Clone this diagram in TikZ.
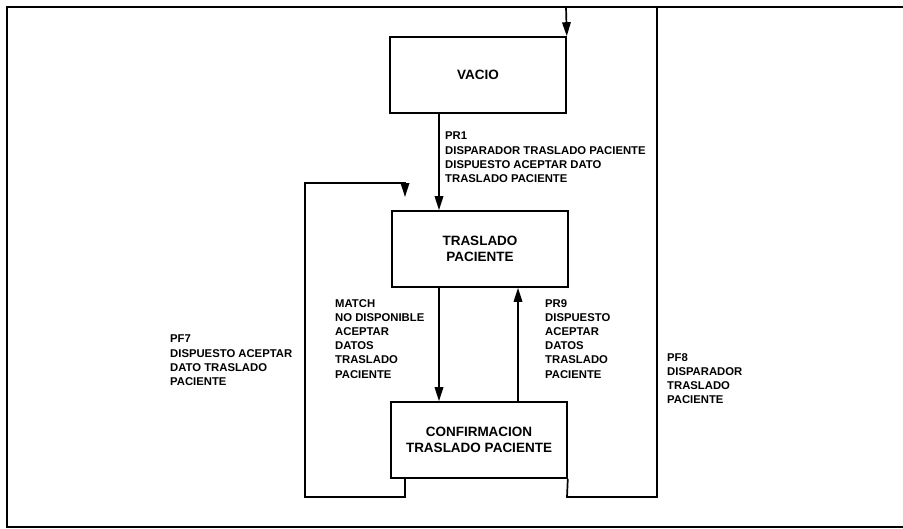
\documentclass[tikz,border=0pt]{standalone}
\usepackage{fontspec}
\setmainfont{Liberation Sans}
\usetikzlibrary{arrows.meta}
\begin{document}
\begin{tikzpicture}[x=1pt,y=-1pt,
  statebox/.style={draw, line width=1.6pt, minimum width=176pt, minimum height=76pt, inner sep=0pt, align=center, font=\fontsize{13.5}{16}\selectfont\bfseries},
  lbl/.style={anchor=north west, inner sep=0pt, align=left, font=\fontsize{11.3}{14.2}\selectfont\bfseries},
  conn/.style={line width=1.7pt},
  arr/.style={conn, -{Triangle[length=14pt,width=8.5pt]}},
  framestyle/.style={line width=2pt}]
\useasboundingbox (0,0) rectangle (903,528);
% frame
\coordinate (f1) at (903,7);
\coordinate (f2) at (7,7);
\coordinate (f3) at (7,527);
\coordinate (f4) at (903,527);
\draw[framestyle] (f1) -- (f2) -- (f3) -- (f4);
% states
\node[statebox] (vacio) at (478,75) {VACIO};
\node[statebox] (tras) at (480,249) {TRASLADO\\PACIENTE};
\node[statebox] (conf) at (479,440) {CONFIRMACION\\TRASLADO PACIENTE};
% helper x positions
\coordinate (xa) at (439,0);
\coordinate (xb) at (518,0);
\coordinate (xl) at (405,0);
% straight transitions
\draw[arr] (vacio.south -| xa) -- (tras.north -| xa);
\draw[arr] (tras.south -| xa) -- (conf.north -| xa);
\draw[arr] (conf.north -| xb) -- (tras.south -| xb);
% left loop (PF7)
\coordinate (l1) at (405,497);
\coordinate (l2) at (305,497);
\coordinate (l3) at (305,183);
\coordinate (l4) at (405,183);
\coordinate (l5) at (405,197);
\draw[arr] (conf.south -| xl) -- (l1) -- (l2) -- (l3) -- (l4) -- (l5);
% right loop (PF8)
\coordinate (r1) at (567,497);
\coordinate (r2) at (657,497);
\coordinate (r3) at (657,7);
\coordinate (r4) at (566,7);
\draw[arr] (conf.south east) -- (r1) -- (r2) -- (r3) -- (r4) -- (vacio.north east);
% labels
\node[lbl] (pr1) at (445,132) {PR1\\DISPARADOR TRASLADO PACIENTE\\DISPUESTO ACEPTAR DATO\\TRASLADO PACIENTE};
\node[lbl] (match) at (335,299) {MATCH\\NO DISPONIBLE\\ACEPTAR\\DATOS\\TRASLADO\\PACIENTE};
\node[lbl] (pr9) at (545,299) {PR9\\DISPUESTO\\ACEPTAR\\DATOS\\TRASLADO\\PACIENTE};
\node[lbl] (pf7) at (170,335) {PF7\\DISPUESTO ACEPTAR\\DATO TRASLADO\\PACIENTE};
\node[lbl] (pf8) at (667,353) {PF8\\DISPARADOR\\TRASLADO\\PACIENTE};
\end{tikzpicture}
\end{document}
